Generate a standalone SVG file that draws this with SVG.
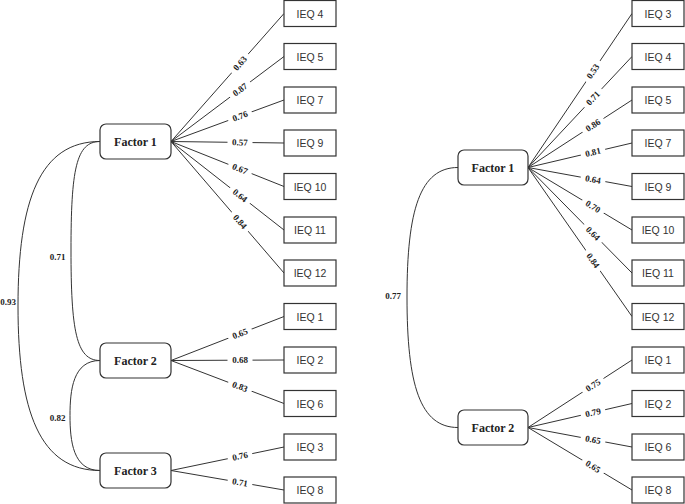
<svg xmlns="http://www.w3.org/2000/svg" width="685" height="504" viewBox="0 0 685 504">
<style>
.f rect{fill:#fff;stroke:#333;stroke-width:1.2}
.f text{font-family:"Liberation Serif",serif;font-weight:bold;font-size:12px;fill:#222;text-anchor:middle;dominant-baseline:central}
.i rect{fill:#fff;stroke:#333;stroke-width:1.2}
.i text{font-family:"Liberation Sans",Arial,sans-serif;font-size:10.5px;fill:#333;text-anchor:middle;dominant-baseline:central}
.c path,.c line{fill:none;stroke:#333;stroke-width:1}
.l rect{fill:#fff;stroke:none}
.l text,.cl{font-family:"Liberation Serif",serif;font-weight:bold;font-size:9px;fill:#222;text-anchor:middle;dominant-baseline:central}
</style>
<rect width="685" height="504" fill="#fff"/>
<g class="c" id="connectors">
<!-- left correlations -->
<path d="M100,141.5 C40,141.5 18,200 18,306 C18,412 40,470.5 100,470.5"/>
<path d="M100,141.5 C76,141.5 71,170 71,250 C71,330 76,360.5 100,360.5"/>
<path d="M100,360.5 C73,360.5 70,390 70,415.5 C70,441 73,470.5 100,470.5"/>
<!-- right correlation -->
<path d="M458,167.5 C420,167.5 407,210 407,297 C407,385 420,427.5 458,427.5"/>
<!-- left loadings -->
<line x1="171" y1="141.5" x2="284" y2="13.5"/>
<line x1="171" y1="141.5" x2="284" y2="56.5"/>
<line x1="171" y1="141.5" x2="284" y2="100"/>
<line x1="171" y1="141.5" x2="284" y2="143"/>
<line x1="171" y1="141.5" x2="284" y2="186.5"/>
<line x1="171" y1="141.5" x2="284" y2="230"/>
<line x1="171" y1="141.5" x2="284" y2="273"/>
<line x1="171" y1="360.5" x2="284" y2="316.5"/>
<line x1="171" y1="360.5" x2="284" y2="360"/>
<line x1="171" y1="360.5" x2="284" y2="403.5"/>
<line x1="171" y1="470.5" x2="284" y2="447"/>
<line x1="171" y1="470.5" x2="284" y2="490"/>
<!-- right loadings -->
<line x1="528" y1="167.5" x2="632" y2="13.5"/>
<line x1="528" y1="167.5" x2="632" y2="56.5"/>
<line x1="528" y1="167.5" x2="632" y2="100"/>
<line x1="528" y1="167.5" x2="632" y2="143"/>
<line x1="528" y1="167.5" x2="632" y2="186.5"/>
<line x1="528" y1="167.5" x2="632" y2="230"/>
<line x1="528" y1="167.5" x2="632" y2="273"/>
<line x1="528" y1="167.5" x2="632" y2="316.5"/>
<line x1="528" y1="427.5" x2="632" y2="360"/>
<line x1="528" y1="427.5" x2="632" y2="403.5"/>
<line x1="528" y1="427.5" x2="632" y2="447"/>
<line x1="528" y1="427.5" x2="632" y2="490"/>
</g>
<g class="l" id="loading-labels">
<g transform="translate(240,63.4) rotate(-48.6)"><rect x="-12.5" y="-5" width="25" height="10"/><text>0.63</text></g>
<g transform="translate(240,89.6) rotate(-37)"><rect x="-12.5" y="-5" width="25" height="10"/><text>0.87</text></g>
<g transform="translate(240,116.2) rotate(-20.2)"><rect x="-12.5" y="-5" width="25" height="10"/><text>0.76</text></g>
<g transform="translate(240,142.4) rotate(0.8)"><rect x="-12.5" y="-5" width="25" height="10"/><text>0.57</text></g>
<g transform="translate(240,168.9) rotate(21.7)"><rect x="-12.5" y="-5" width="25" height="10"/><text>0.67</text></g>
<g transform="translate(240,195.5) rotate(38.1)"><rect x="-12.5" y="-5" width="25" height="10"/><text>0.64</text></g>
<g transform="translate(240,221.7) rotate(49.3)"><rect x="-12.5" y="-5" width="25" height="10"/><text>0.84</text></g>
<g transform="translate(240,333.7) rotate(-21.3)"><rect x="-12.5" y="-5" width="25" height="10"/><text>0.65</text></g>
<g transform="translate(240,360.2)"><rect x="-12.5" y="-5" width="25" height="10"/><text>0.68</text></g>
<g transform="translate(240,386.7) rotate(20.8)"><rect x="-12.5" y="-5" width="25" height="10"/><text>0.83</text></g>
<g transform="translate(240,456.2) rotate(-11.75)"><rect x="-12.5" y="-5" width="25" height="10"/><text>0.76</text></g>
<g transform="translate(240,482.4) rotate(9.8)"><rect x="-12.5" y="-5" width="25" height="10"/><text>0.71</text></g>
<g transform="translate(593,71.3) rotate(-56)"><rect x="-12.5" y="-5" width="25" height="10"/><text>0.53</text></g>
<g transform="translate(593,98.1) rotate(-46.9)"><rect x="-12.5" y="-5" width="25" height="10"/><text>0.71</text></g>
<g transform="translate(593,125.3) rotate(-33)"><rect x="-12.5" y="-5" width="25" height="10"/><text>0.86</text></g>
<g transform="translate(593,152.2) rotate(-13.3)"><rect x="-12.5" y="-5" width="25" height="10"/><text>0.81</text></g>
<g transform="translate(593,179.4) rotate(10.35)"><rect x="-12.5" y="-5" width="25" height="10"/><text>0.64</text></g>
<g transform="translate(593,206.6) rotate(31)"><rect x="-12.5" y="-5" width="25" height="10"/><text>0.70</text></g>
<g transform="translate(593,233.4) rotate(45.4)"><rect x="-12.5" y="-5" width="25" height="10"/><text>0.64</text></g>
<g transform="translate(593,260.6) rotate(55.1)"><rect x="-12.5" y="-5" width="25" height="10"/><text>0.84</text></g>
<g transform="translate(593,385.3) rotate(-33)"><rect x="-12.5" y="-5" width="25" height="10"/><text>0.75</text></g>
<g transform="translate(593,412.5) rotate(-13)"><rect x="-12.5" y="-5" width="25" height="10"/><text>0.79</text></g>
<g transform="translate(593,439.7) rotate(10.6)"><rect x="-12.5" y="-5" width="25" height="10"/><text>0.65</text></g>
<g transform="translate(593,466.6) rotate(31)"><rect x="-12.5" y="-5" width="25" height="10"/><text>0.65</text></g>
</g>
<g id="correlation-labels">
<text class="cl" x="8" y="302">0.93</text>
<text class="cl" x="57.5" y="257">0.71</text>
<text class="cl" x="57.5" y="418">0.82</text>
<text class="cl" x="393" y="296">0.77</text>
</g>
<g class="f" id="L-factor1"><rect x="100" y="124" width="71" height="35" rx="6"/><text x="135.5" y="141.5">Factor 1</text></g>
<g class="f" id="L-factor2"><rect x="100" y="343" width="71" height="35" rx="6"/><text x="135.5" y="360.5">Factor 2</text></g>
<g class="f" id="L-factor3"><rect x="100" y="453" width="71" height="35" rx="6"/><text x="135.5" y="470.5">Factor 3</text></g>
<g class="f" id="R-factor1"><rect x="458" y="150" width="70" height="35" rx="6"/><text x="493" y="167.5">Factor 1</text></g>
<g class="f" id="R-factor2"><rect x="458" y="410" width="70" height="35" rx="6"/><text x="493" y="427.5">Factor 2</text></g>
<g class="i" id="L-ieq4"><rect x="284" y="0.5" width="52" height="26"/><text x="310" y="13.5">IEQ 4</text></g>
<g class="i" id="L-ieq5"><rect x="284" y="43.5" width="52" height="26"/><text x="310" y="56.5">IEQ 5</text></g>
<g class="i" id="L-ieq7"><rect x="284" y="87" width="52" height="26"/><text x="310" y="100">IEQ 7</text></g>
<g class="i" id="L-ieq9"><rect x="284" y="130" width="52" height="26"/><text x="310" y="143">IEQ 9</text></g>
<g class="i" id="L-ieq10"><rect x="284" y="173.5" width="52" height="26"/><text x="310" y="186.5">IEQ 10</text></g>
<g class="i" id="L-ieq11"><rect x="284" y="217" width="52" height="26"/><text x="310" y="230">IEQ 11</text></g>
<g class="i" id="L-ieq12"><rect x="284" y="260" width="52" height="26"/><text x="310" y="273">IEQ 12</text></g>
<g class="i" id="L-ieq1"><rect x="284" y="303.5" width="52" height="26"/><text x="310" y="316.5">IEQ 1</text></g>
<g class="i" id="L-ieq2"><rect x="284" y="347" width="52" height="26"/><text x="310" y="360">IEQ 2</text></g>
<g class="i" id="L-ieq6"><rect x="284" y="390.5" width="52" height="26"/><text x="310" y="403.5">IEQ 6</text></g>
<g class="i" id="L-ieq3"><rect x="284" y="434" width="52" height="26"/><text x="310" y="447">IEQ 3</text></g>
<g class="i" id="L-ieq8"><rect x="284" y="477" width="52" height="26"/><text x="310" y="490">IEQ 8</text></g>
<g class="i" id="R-ieq3"><rect x="632" y="0.5" width="52" height="26"/><text x="658" y="13.5">IEQ 3</text></g>
<g class="i" id="R-ieq4"><rect x="632" y="43.5" width="52" height="26"/><text x="658" y="56.5">IEQ 4</text></g>
<g class="i" id="R-ieq5"><rect x="632" y="87" width="52" height="26"/><text x="658" y="100">IEQ 5</text></g>
<g class="i" id="R-ieq7"><rect x="632" y="130" width="52" height="26"/><text x="658" y="143">IEQ 7</text></g>
<g class="i" id="R-ieq9"><rect x="632" y="173.5" width="52" height="26"/><text x="658" y="186.5">IEQ 9</text></g>
<g class="i" id="R-ieq10"><rect x="632" y="217" width="52" height="26"/><text x="658" y="230">IEQ 10</text></g>
<g class="i" id="R-ieq11"><rect x="632" y="260" width="52" height="26"/><text x="658" y="273">IEQ 11</text></g>
<g class="i" id="R-ieq12"><rect x="632" y="303.5" width="52" height="26"/><text x="658" y="316.5">IEQ 12</text></g>
<g class="i" id="R-ieq1"><rect x="632" y="347" width="52" height="26"/><text x="658" y="360">IEQ 1</text></g>
<g class="i" id="R-ieq2"><rect x="632" y="390.5" width="52" height="26"/><text x="658" y="403.5">IEQ 2</text></g>
<g class="i" id="R-ieq6"><rect x="632" y="434" width="52" height="26"/><text x="658" y="447">IEQ 6</text></g>
<g class="i" id="R-ieq8"><rect x="632" y="477" width="52" height="26"/><text x="658" y="490">IEQ 8</text></g>
</svg>
